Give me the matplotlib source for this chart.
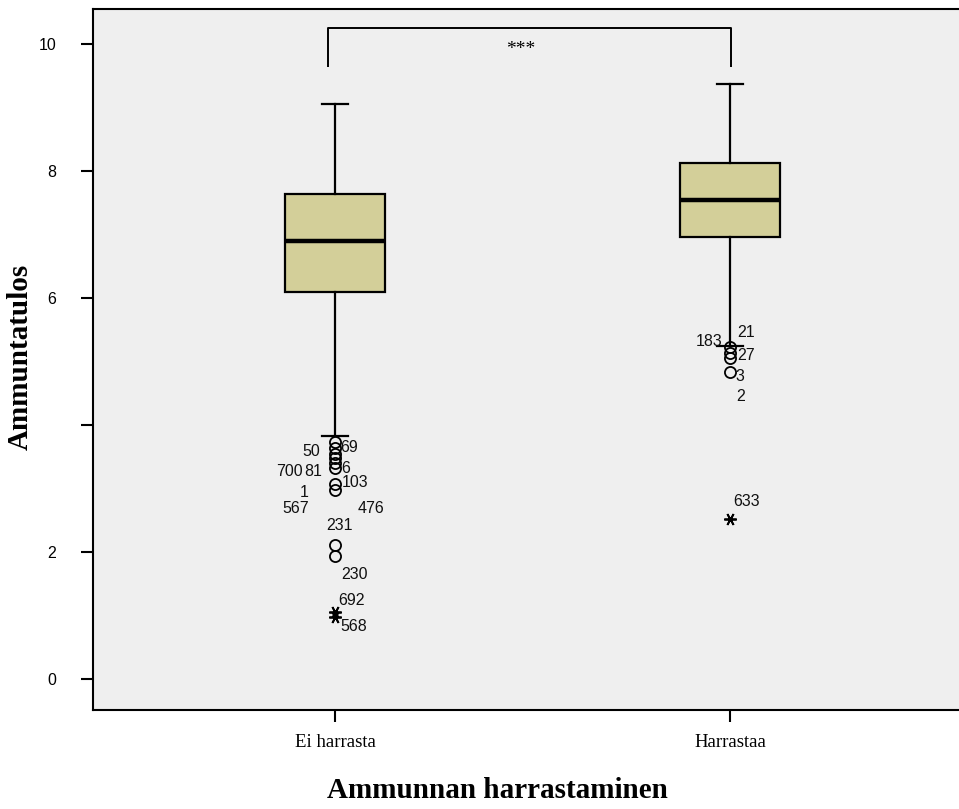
import matplotlib
matplotlib.use("Agg")
import matplotlib.pyplot as plt

# Score summaries per group
groups = ["Ei harrasta", "Harrastaa"]
q1 = [6.10, 6.96]
median = [6.89, 7.54]
q3 = [7.64, 8.13]
whisker_low = [3.83, 5.24]
whisker_high = [9.06, 9.37]

# Outliers (circles) and extreme values (stars)
outliers_ei = [3.73, 3.64, 3.54, 3.48, 3.40, 3.32, 3.07, 2.98, 2.11, 1.93]
extremes_ei = [1.05, 0.98]
outliers_harr = [5.22, 5.14, 5.06, 4.84]
extremes_harr = [2.52]

# Case numbers shown next to the unusual values
case_labels = ["50", "69", "700", "81", "6", "103", "1", "567", "476", "231",
               "230", "692", "568",
               "183", "21", "27", "3", "2", "633"]

yticks = [0, 2, 4, 6, 8, 10]
ytick_labels = ["0", "2", "", "6", "8", "10"]
signif_text = "***"

# label placement: (x, y, horizontal alignment)
label_pos = [
    (0.962, 3.575, "right"), (1.013, 3.64, "left"), (0.919, 3.26, "right"),
    (0.922, 3.26, "left"), (1.015, 3.31, "left"), (1.018, 3.10, "left"),
    (0.934, 2.94, "right"), (0.934, 2.69, "right"), (1.058, 2.69, "left"),
    (0.977, 2.41, "left"), (1.015, 1.65, "left"), (1.008, 1.24, "left"),
    (1.013, 0.82, "left"),
    (1.982, 5.32, "right"), (2.018, 5.45, "left"), (2.018, 5.09, "left"),
    (2.015, 4.76, "left"), (2.015, 4.44, "left"), (2.008, 2.80, "left"),
]

W, H = 959, 809
fig = plt.figure(figsize=(W / 100, H / 100), dpi=100)
ax = fig.add_axes([93 / W, 1 - 710 / H, (972 - 93) / W, (710 - 9) / H])
ax.set_facecolor("#efefef")

positions = [1, 2]
fliers = [outliers_ei, outliers_harr]
stats = []
for i, g in enumerate(groups):
    stats.append(dict(label=g, med=median[i], q1=q1[i], q3=q3[i],
                      whislo=whisker_low[i], whishi=whisker_high[i],
                      fliers=fliers[i]))

ax.bxp(stats, positions=positions, widths=0.253, capwidths=0.066,
       patch_artist=True, showfliers=True,
       boxprops=dict(facecolor="#d3cf99", edgecolor="black", linewidth=1.6),
       medianprops=dict(color="black", linewidth=3.2),
       whiskerprops=dict(color="black", linewidth=1.6),
       capprops=dict(color="black", linewidth=1.6),
       flierprops=dict(marker="o", markerfacecolor="none",
                       markeredgecolor="black", markersize=8,
                       markeredgewidth=1.3))

for pos, vals in zip(positions, [extremes_ei, extremes_harr]):
    ax.plot([pos] * len(vals), vals, linestyle="none",
            marker=(6, 2, 90), markersize=9, markeredgewidth=1.3,
            color="black")

for text, (x, y, ha) in zip(case_labels, label_pos):
    ax.text(x, y, text, ha=ha, va="center", fontsize=11.5,
            family="Liberation Sans", color="#111111")

# significance bracket
ax.plot([0.982, 0.982, 2.003, 2.003], [9.64, 10.25, 10.25, 9.64],
        color="black", linewidth=1.4, solid_capstyle="butt")
ax.text(1.47, 9.92, signif_text, ha="center", va="center", fontsize=14,
        family="Liberation Serif")

ax.set_xlim(0.387, 2.613)
ax.set_ylim(-0.49, 10.55)
ax.set_xticks(positions)
ax.set_xticklabels(groups, family="Liberation Serif", fontsize=13.5)
ax.set_yticks(yticks)
ax.set_yticklabels(ytick_labels, family="Liberation Sans", fontsize=11.5)
ax.tick_params(axis="y", direction="out", length=8.5, width=1.5, pad=18)
ax.tick_params(axis="x", direction="out", length=8.5, width=1.5, pad=9)

for side in ["left", "bottom", "top"]:
    ax.spines[side].set_linewidth(1.5)
ax.spines["right"].set_visible(False)

fig.text(20 / W, 1 - 357 / H, "Ammuntatulos", rotation=90, ha="center",
         va="center", fontsize=21, fontweight="bold", family="Liberation Serif")
fig.text(497 / W, 1 - 790 / H, "Ammunnan harrastaminen", ha="center",
         va="center", fontsize=21, fontweight="bold", family="Liberation Serif")

fig.savefig("out.png", dpi=100)
